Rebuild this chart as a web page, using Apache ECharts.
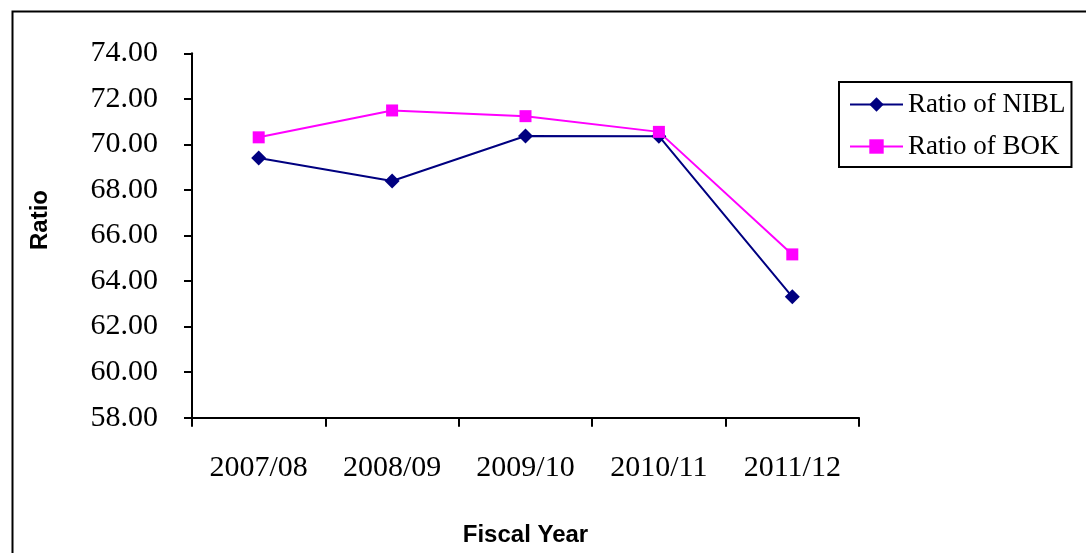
<!DOCTYPE html>
<html>
<head>
<meta charset="utf-8">
<script src="https://cdn.jsdelivr.net/npm/echarts@6/dist/echarts.min.js"></script>
<style>
html,body{margin:0;padding:0;background:#fff;}
#main{width:1086px;height:553px;}
</style>
</head>
<body>
<div id="main"></div>
<script>
var categories = ['2007/08', '2008/09', '2009/10', '2010/11', '2011/12'];
var nibl = [69.40, 68.39, 70.37, 70.36, 63.31];
var bok = [70.31, 71.49, 71.24, 70.55, 65.17];
var seriesNames = ['Ratio of NIBL', 'Ratio of BOK'];
var yTitle = 'Ratio';
var xTitle = 'Fiscal Year';

var chart = echarts.init(document.getElementById('main'), null, {renderer: 'canvas'});
var serif = '"Liberation Serif", "Times New Roman", serif';
var sans = '"Liberation Sans", Arial, sans-serif';
chart.setOption({
  backgroundColor: '#fff',
  animation: false,
  graphic: [
    {type: 'rect', left: 10, top: 9, shape: {width: 1100, height: 600},
     style: {fill: 'none', stroke: '#000', lineWidth: 2}, z: -1},
    {type: 'text', left: 28, top: 190, rotation: Math.PI / 2,
     style: {text: yTitle, font: 'bold 24px ' + sans, fill: '#000'}}
  ],
  grid: {left: 192, top: 53.3, right: 227, bottom: 135.3, containLabel: false, outerBoundsMode: 'none'},
  legend: {
    orient: 'vertical', left: 839, top: 82, width: 233,
    data: seriesNames,
    borderColor: '#000', borderWidth: 2,
    padding: [9, 6, 7, 10],
    itemGap: 15, itemWidth: 53, itemHeight: 18,
    textStyle: {fontFamily: serif, fontSize: 27, color: '#000'},
    backgroundColor: '#fff'
  },
  xAxis: {
    type: 'category', data: categories, boundaryGap: true,
    name: xTitle, nameLocation: 'middle', nameGap: 106,
    nameTextStyle: {fontFamily: sans, fontWeight: 'bold', fontSize: 24, color: '#000'},
    axisLine: {lineStyle: {color: '#000', width: 2}},
    axisTick: {show: true, length: 9, lineStyle: {color: '#000', width: 2}},
    axisLabel: {fontFamily: serif, fontSize: 30, color: '#000', margin: 35}
  },
  yAxis: {
    type: 'value', min: 58, max: 74, interval: 2,
    axisLine: {show: true, lineStyle: {color: '#000', width: 2}},
    axisTick: {show: true, length: 8, lineStyle: {color: '#000', width: 2}},
    splitLine: {show: false},
    axisLabel: {fontFamily: serif, fontSize: 30, color: '#000', margin: 34,
      formatter: function (v) { return v.toFixed(2); }}
  },
  series: [
    {name: seriesNames[0], type: 'line', data: nibl, symbol: 'diamond', symbolSize: 15,
     itemStyle: {color: '#000080'}, lineStyle: {color: '#000080', width: 2}},
    {name: seriesNames[1], type: 'line', data: bok, symbol: 'rect', symbolSize: 12,
     itemStyle: {color: '#FF00FF'}, lineStyle: {color: '#FF00FF', width: 2}}
  ]
});
</script>
</body>
</html>
